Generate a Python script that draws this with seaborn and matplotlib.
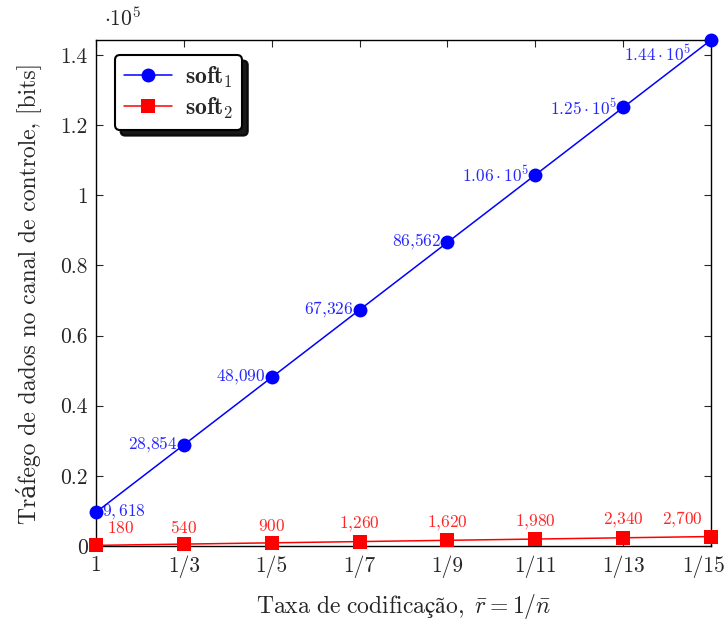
import matplotlib
matplotlib.use("Agg")
import matplotlib.pyplot as plt
import matplotlib.transforms as mtransforms
import seaborn as sns
import pandas as pd

x_values = [1, 3, 5, 7, 9, 11, 13, 15]
x_labels = ["1", "1/3", "1/5", "1/7", "1/9", "1/11", "1/13", "1/15"]
soft1 = [9618, 28854, 48090, 67326, 86562, 105798, 125034, 144270]
soft2 = [180, 540, 900, 1260, 1620, 1980, 2340, 2700]
soft1_labels = ["$9,618$", "$28{,}854$", "$48{,}090$", "$67{,}326$", "$86{,}562$",
                r"$1.06\cdot10^{5}$", r"$1.25\cdot10^{5}$", r"$1.44\cdot10^{5}$"]
soft2_labels = ["$180$", "$540$", "$900$", "$1{,}260$", "$1{,}620$",
                "$1{,}980$", "$2{,}340$", "$2{,}700$"]
y_ticks = [0, 20000, 40000, 60000, 80000, 100000, 120000, 140000]
y_ticklabels = ["0", "0.2", "0.4", "0.6", "0.8", "1", "1.2", "1.4"]

sns.set_style("ticks")
plt.rcParams["font.family"] = ["cmr10", "DejaVu Serif"]
plt.rcParams["mathtext.fontset"] = "cm"
plt.rcParams["axes.formatter.use_mathtext"] = True

df1 = pd.DataFrame({"x": x_values, "y": soft1})
df2 = pd.DataFrame({"x": x_values, "y": soft2})

fig = plt.figure(figsize=(7.26, 6.21), dpi=100)
ax = fig.add_axes([96 / 726, 1 - 546 / 621, 615 / 726, 506 / 621])

sns.lineplot(data=df1, x="x", y="y", ax=ax, color=(0, 0, 1), marker="o",
             markersize=10, markeredgewidth=0, linewidth=1.1,
             label=r"$\mathbf{soft_1}$", clip_on=False, zorder=4)
sns.lineplot(data=df2, x="x", y="y", ax=ax, color=(1, 0, 0), marker="s",
             markersize=10, markeredgewidth=0, linewidth=1.1,
             label=r"$\mathbf{soft_2}$", clip_on=False, zorder=5)

ax.set_xlim(1, 15)
ax.set_ylim(0, 144270)
ax.set_xticks(x_values)
ax.set_xticklabels(x_labels, fontsize=15.5)
ax.set_yticks(y_ticks)
ax.set_yticklabels(y_ticklabels, fontsize=15.5)
ax.tick_params(direction="in", top=True, right=True, length=5, width=0.8)
ax.tick_params(axis="x", pad=7)
ax.tick_params(axis="y", pad=6)
for s in ax.spines.values():
    s.set_linewidth(1.0)
    s.set_color("black")

# keep the last x tick label inside the figure, as in the reference
last = ax.get_xticklabels()[-1]
last.set_transform(last.get_transform() +
                   mtransforms.ScaledTranslation(-7 / 100, 0, fig.dpi_scale_trans))

ax.set_xlabel(r"$\mathrm{Taxa\ de\ codificação,}\ \bar{r} = 1/\bar{n}$",
              fontsize=17, labelpad=10)
ax.set_ylabel("Tráfego de dados no canal de controle, [bits]", fontsize=17, labelpad=14)

ax.text(0.013, 1 + 14 / 506, r"$\cdot 10^{5}$", transform=ax.transAxes, fontsize=15.5,
        ha="left", va="baseline")

# soft1 annotations
offsets1 = [(6, 0, "left"), (-6, 0, "right"), (-6, 0, "right"), (-6, 0, "right"),
            (-6, 0, "right"), (-6, 0, "right"), (-6, 0, "right"), (-20, -14, "right")]
for xv, yv, lab, (dx, dy, ha) in zip(x_values, soft1, soft1_labels, offsets1):
    ax.annotate(lab, (xv, yv), xytext=(dx, dy), textcoords="offset pixels",
                ha=ha, va="center", fontsize=12.5, color=(0.15, 0.15, 1))

offsets2 = [(11, "left"), (0, "center"), (0, "center"), (0, "center"),
            (0, "center"), (0, "center"), (0, "center"), (-8, "right")]
for xv, yv, lab, (dx, ha) in zip(x_values, soft2, soft2_labels, offsets2):
    ax.annotate(lab, (xv, yv), xytext=(dx, 17), textcoords="offset pixels",
                ha=ha, va="center", fontsize=12.5, color=(1, 0.15, 0.15))

leg = ax.legend(loc="upper left", bbox_to_anchor=(19 / 615, 1 - 15 / 506),
                borderaxespad=0, fontsize=17, frameon=True, fancybox=True,
                shadow={"ox": 4, "oy": -4, "facecolor": "black",
                        "edgecolor": "black", "alpha": 0.9},
                handlelength=2.0, handletextpad=0.55, borderpad=0.4,
                labelspacing=0.25)
fr = leg.get_frame()
fr.set_edgecolor("black")
fr.set_linewidth(1.5)
fr.set_alpha(1)
fr.set_facecolor("white")

fig.savefig("out.png", dpi=100)
